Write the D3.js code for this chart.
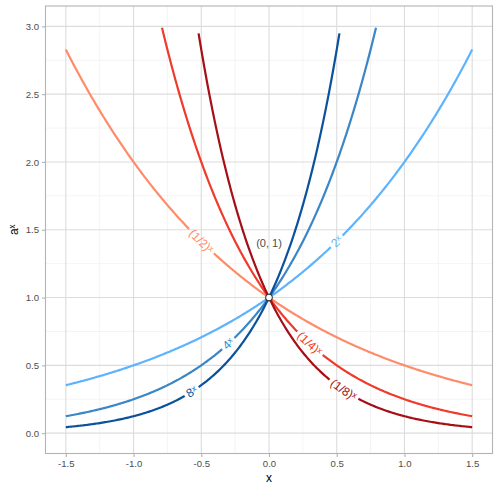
<!DOCTYPE html>
<html><head><meta charset="utf-8">
<script src="https://cdn.jsdelivr.net/npm/d3@7"></script>
<style>body{margin:0;background:#fff;} svg{display:block;font-family:"Liberation Sans",Arial,sans-serif;}</style>
</head><body>
<svg id="c" width="500" height="492"></svg>
<script>
// ---- data ----
const seriesNames = ["2ˣ", "4ˣ", "8ˣ", "(1/2)ˣ", "(1/4)ˣ", "(1/8)ˣ"];
const bases = [2, 4, 8, 0.5, 0.25, 0.125];
const colors = ["#5EB3FF", "#3A86C6", "#0B519C", "#FF8C69", "#EF3B2C", "#A50F15"];
const labelAtX = [0.5, -0.3, -0.57, -0.5, 0.3, 0.55];
const xTicks = [-1.5, -1.0, -0.5, 0.0, 0.5, 1.0, 1.5];
const yTicks = [0.0, 0.5, 1.0, 1.5, 2.0, 2.5, 3.0];
const xMinor = [-1.25, -0.75, -0.25, 0.25, 0.75, 1.25];
const yMinor = [0.25, 0.75, 1.25, 1.75, 2.25, 2.75];
const xMin = -1.5, xMax = 1.5, yCap = 3, step = 0.01;
const pointLabel = "(0, 1)";

const svg = d3.select("#c");
const L = 45.5, R = 492.5, T = 6, B = 453.5;
const x = d3.scaleLinear().domain([-1.65, 1.65]).range([L, R]);
const y = d3.scaleLinear().domain([-0.15, 3.15]).range([B, T]);

// grid
const g = svg.append("g");
g.selectAll(".xm").data(xMinor).join("line").attr("x1", d => x(d)).attr("x2", d => x(d)).attr("y1", T).attr("y2", B).attr("stroke", "#EDEDED").attr("stroke-width", 0.6);
g.selectAll(".ym").data(yMinor).join("line").attr("y1", d => y(d)).attr("y2", d => y(d)).attr("x1", L).attr("x2", R).attr("stroke", "#EDEDED").attr("stroke-width", 0.6);
g.selectAll(".xM").data(xTicks).join("line").attr("x1", d => x(d)).attr("x2", d => x(d)).attr("y1", T).attr("y2", B).attr("stroke", "#DCDCDC").attr("stroke-width", 1.1);
g.selectAll(".yM").data(yTicks).join("line").attr("y1", d => y(d)).attr("y2", d => y(d)).attr("x1", L).attr("x2", R).attr("stroke", "#DCDCDC").attr("stroke-width", 1.1);

// axes
const xa = svg.append("g").attr("transform", `translate(0,${B})`)
  .call(d3.axisBottom(x).tickValues(xTicks).tickFormat(d3.format(".1f")).tickSize(3.5).tickPadding(3));
const ya = svg.append("g").attr("transform", `translate(${L},0)`)
  .call(d3.axisLeft(y).tickValues(yTicks).tickFormat(d3.format(".1f")).tickSize(3.5).tickPadding(3));
[xa, ya].forEach(a => {
  a.select(".domain").remove();
  a.selectAll("line").attr("stroke", "#B3B3B3").attr("stroke-width", 1.1);
  a.selectAll("text").attr("fill", "#4D4D4D").attr("font-size", "9.6px").attr("font-family", "Liberation Sans, Arial, sans-serif");
});
xa.selectAll("text").text(d => d < 0 ? "-" + d3.format(".1f")(-d) : d3.format(".1f")(d));
ya.selectAll("text").text(d => d3.format(".1f")(d));

// border
svg.append("rect").attr("x", L).attr("y", T).attr("width", R - L).attr("height", B - T)
  .attr("fill", "none").attr("stroke", "#B3B3B3").attr("stroke-width", 1.1);

// axis titles
svg.append("text").attr("x", x(0)).attr("y", 482).attr("text-anchor", "middle")
  .attr("font-size", "12px").attr("fill", "#000").text("x");
svg.append("text").attr("transform", `translate(18,${(T + B) / 2}) rotate(-90)`)
  .attr("text-anchor", "middle").attr("font-size", "12px").attr("fill", "#000").text("aˣ");

// curves
const line = d3.line().x(d => x(d[0])).y(d => y(d[1]));
const nSteps = Math.round((xMax - xMin) / step);
bases.forEach((a, i) => {
  const pts = [];
  for (let k = 0; k <= nSteps; k++) {
    const xv = +(xMin + k * step).toFixed(2);
    const yv = Math.pow(a, xv);
    if (yv <= yCap) pts.push([xv, yv]);
  }
  const id = "p" + i;
  const path = svg.append("path").attr("id", id).attr("d", line(pts))
    .attr("fill", "none").attr("stroke", colors[i]).attr("stroke-width", 2.2);
  const node = path.node();
  const total = node.getTotalLength();
  const tx = x(labelAtX[i]);
  let lo = 0, hi = total;
  for (let it = 0; it < 40; it++) {
    const mid = (lo + hi) / 2;
    if (node.getPointAtLength(mid).x < tx) lo = mid; else hi = mid;
  }
  const Lc = (lo + hi) / 2;
  const t = svg.append("text").attr("font-size", "12px").attr("fill", colors[i])
    .attr("dominant-baseline", "central");
  t.append("textPath").attr("href", "#" + id).attr("startOffset", Lc).attr("text-anchor", "middle")
    .text(seriesNames[i]);
  const w = t.node().getComputedTextLength();
  const pad = 3;
  path.attr("stroke-dasharray", `${Lc - w / 2 - pad},${w + 2 * pad},${total}`);
});

// point
svg.append("text").attr("x", x(0)).attr("y", y(1.37)).attr("text-anchor", "middle")
  .attr("font-size", "11px").attr("fill", "#4D4D4D").text(pointLabel);
svg.append("circle").attr("cx", x(0)).attr("cy", y(1)).attr("r", 3.3)
  .attr("fill", "#fff").attr("stroke", "#333").attr("stroke-width", 1.1);
</script>
</body></html>
